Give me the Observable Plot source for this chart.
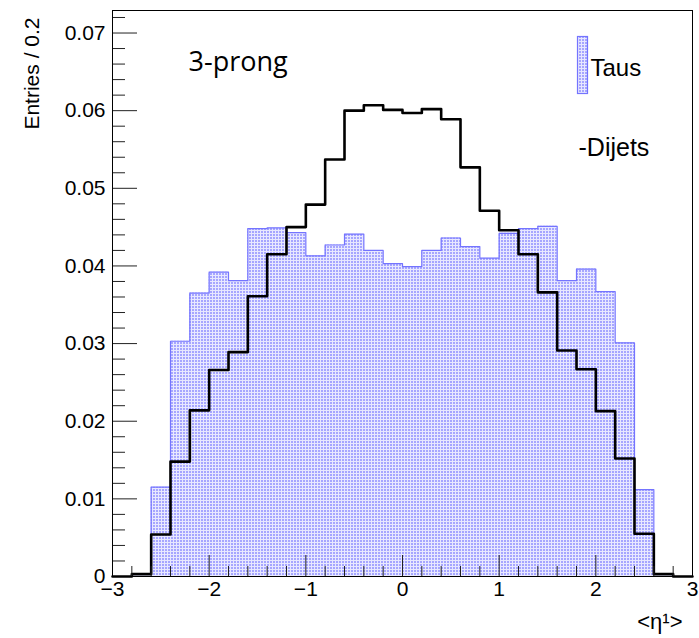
<!DOCTYPE html>
<html>
<head>
<meta charset="utf-8">
<script src="https://cdn.jsdelivr.net/npm/d3@7"></script>
<script src="https://cdn.jsdelivr.net/npm/@observablehq/plot@0.6"></script>
<style>
  html, body { margin: 0; padding: 0; background: #fff; }
  #chart { width: 699px; height: 638px; }
</style>
</head>
<body>
<div id="chart"></div>
<script>
// Bin layout: 30 bins of width 0.2 from -3 to 3
const binLow = -3, binWidth = 0.2, nBins = 30;

// Taus (blue filled histogram), entries / 0.2
const taus = [0, 0.0003, 0.0115, 0.0303, 0.0365, 0.0392, 0.0381, 0.0448, 0.0449, 0.0443,
              0.0413, 0.0427, 0.0441, 0.0420, 0.0403, 0.0399, 0.0420, 0.0436, 0.0425, 0.0410,
              0.0442, 0.0448, 0.0451, 0.0381, 0.0396, 0.0367, 0.0301, 0.0112, 0.0003, 0];

// Dijets (black line histogram)
const dijets = [0, 0.0003, 0.0054, 0.0148, 0.0214, 0.0266, 0.0289, 0.0361, 0.0415, 0.0450,
                0.0479, 0.0537, 0.0600, 0.0607, 0.0601, 0.0597, 0.0602, 0.0589, 0.0527, 0.0471,
                0.0446, 0.0415, 0.0366, 0.0291, 0.0267, 0.0213, 0.0152, 0.0055, 0.0003, 0];

// Axis ticks and labels
const xMajorTicks = [-3, -2, -1, 0, 1, 2, 3];
const xMinorStep = 0.2;
const yMajorTicks = [0, 0.01, 0.02, 0.03, 0.04, 0.05, 0.06, 0.07];
const yTickLabels = ["0", "0.01", "0.02", "0.03", "0.04", "0.05", "0.06", "0.07"];
const yMinorStep = 0.002;
const yMax = 0.0729;

const xTitle = "<η\u00B9>";
const yTitle = "Entries / 0.2";
const annotation = "3-prong";
const legendLabels = ["Taus", "-Dijets"];

// Derived tables
const edges = d3.range(nBins + 1).map(i => +(binLow + i * binWidth).toFixed(4));
const stepPoints = vals => edges.map((x, i) => ({x, y: vals[Math.min(i, nBins - 1)]}));
const tauPts = stepPoints(taus);
const dijetPts = stepPoints(dijets);
const xMinorTicks = d3.range(0, 31).map(i => +(-3 + i * xMinorStep).toFixed(4)).filter(v => !xMajorTicks.includes(v));
const yMinorTicks = d3.range(0, 37).map(i => +(i * yMinorStep).toFixed(4)).filter(v => v <= yMax && !yMajorTicks.includes(v));
const yLabelMap = new Map(yMajorTicks.map((v, i) => [v, yTickLabels[i]]));

const W = 699, H = 638;
const mL = 112, mR = 7, mT = 10, mB = 62;
const plotW = W - mL - mR, plotH = H - mT - mB;
const font = "Liberation Sans, Arial, Helvetica, sans-serif";
const tickColor = "#222";
const blueLine = "#7474ff";

const svg = Plot.plot({
  width: W,
  height: H,
  marginLeft: mL, marginRight: mR, marginTop: mT, marginBottom: mB,
  style: {fontFamily: font, color: "black", background: "white", overflow: "visible"},
  x: {domain: [-3, 3], axis: null},
  y: {domain: [0, yMax], axis: null},
  marks: [
    Plot.areaY(tauPts, {x: "x", y: "y", curve: "step-after", fill: "url(#tauPattern)"}),
    Plot.lineY(tauPts, {x: "x", y: "y", curve: "step-after", stroke: blueLine, strokeWidth: 1.2}),
    Plot.lineY(dijetPts, {x: "x", y: "y", curve: "step-after", stroke: "black", strokeWidth: 2.6}),
    // inner ticks (ROOT style)
    Plot.tickY(yMajorTicks, {y: d => d, stroke: tickColor, insetRight: plotW - 25}),
    Plot.tickY(yMinorTicks, {y: d => d, stroke: tickColor, insetRight: plotW - 13}),
    Plot.tickX(xMajorTicks, {x: d => d, stroke: tickColor, insetTop: plotH - 21}),
    Plot.tickX(xMinorTicks, {x: d => d, stroke: tickColor, insetTop: plotH - 10}),
    Plot.frame({stroke: "black", strokeWidth: 1}),
    Plot.axisY(yMajorTicks, {tickSize: 0, tickPadding: 7, fontSize: 21, tickFormat: d => yLabelMap.get(d), label: null}),
    Plot.axisX(xMajorTicks, {tickSize: 0, tickPadding: 5, fontSize: 21, label: null}),
    Plot.text([yTitle], {text: d => d, frameAnchor: "top-left", dx: -80, dy: 7, rotate: -90,
      textAnchor: "end", lineAnchor: "middle", fontSize: 21, fill: "black"}),
    Plot.text([xTitle], {text: d => d, frameAnchor: "bottom-right", dx: -10, dy: 52,
      textAnchor: "end", lineAnchor: "bottom", fontSize: 22, fill: "black"}),
    Plot.text([annotation], {text: d => d, frameAnchor: "top-left", dx: 76, dy: 60,
      textAnchor: "start", lineAnchor: "bottom", fontSize: 27, fontFamily: "Open Sans", fill: "black"}),
    Plot.text([legendLabels[0]], {text: d => d, frameAnchor: "top-left", dx: 478, dy: 65,
      textAnchor: "start", lineAnchor: "bottom", fontSize: 24, fill: "black"}),
    Plot.text([legendLabels[1]], {text: d => d, frameAnchor: "top-left", dx: 466, dy: 145,
      textAnchor: "start", lineAnchor: "bottom", fontSize: 25, fill: "black"})
  ]
});

// Dotted fill pattern (ROOT fill style)
const s = d3.select(svg);
const defs = s.insert("defs", ":first-child");
const pat = defs.append("pattern").attr("id", "tauPattern").attr("patternUnits", "userSpaceOnUse")
  .attr("width", 3).attr("height", 3);
pat.append("rect").attr("width", 3).attr("height", 3).attr("fill", "#e8e8ff");
pat.append("rect").attr("width", 2).attr("height", 2).attr("fill", "#a6a6ff");

// Legend swatch for Taus
s.append("rect").attr("x", 577.5).attr("y", 36.5).attr("width", 10).attr("height", 57)
  .attr("fill", "url(#tauPattern)").attr("stroke", blueLine).attr("stroke-width", 1.2);

document.getElementById("chart").appendChild(svg);
</script>
</body>
</html>
